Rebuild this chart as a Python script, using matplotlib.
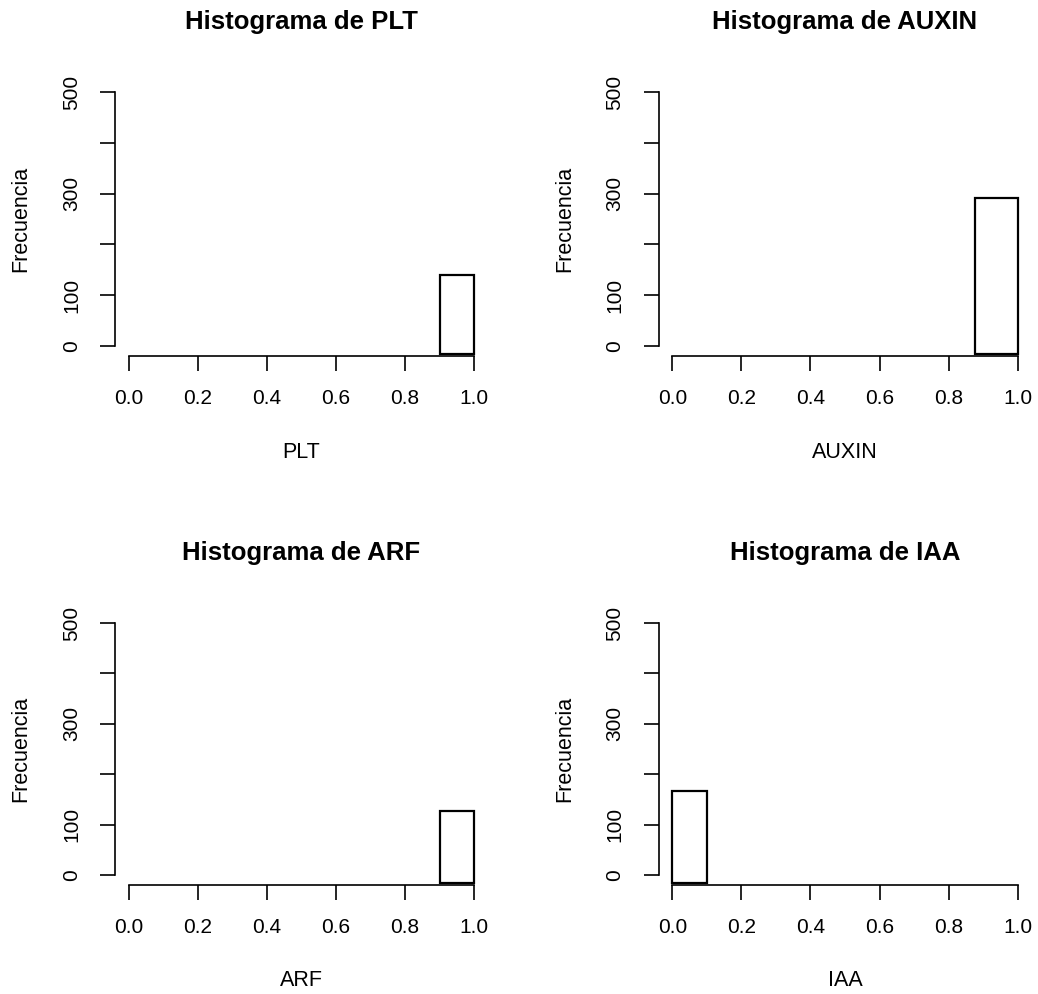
import matplotlib
matplotlib.use("Agg")
import matplotlib.pyplot as plt

# ---- data ----
variables = ["PLT", "AUXIN", "ARF", "IAA"]
bin_left = [0.9, 0.875, 0.9, 0.0]
bin_right = [1.0, 1.0, 1.0, 0.1]
counts = [140, 291, 126, 166]
x_ticks = [0.0, 0.2, 0.4, 0.6, 0.8, 1.0]
x_ticklabels = ["0.0", "0.2", "0.4", "0.6", "0.8", "1.0"]
y_ticks = [0, 100, 200, 300, 400, 500]
y_ticklabels = ["0", "100", "", "300", "", "500"]

plt.rcParams['font.family'] = ['Liberation Sans', 'DejaVu Sans']

W, H = 1038, 994
fig = plt.figure(figsize=(W / 100, H / 100), dpi=100)

# axes rectangles in pixels: (left, top, right, bottom)
rects = [
    (115, 82, 488, 356),
    (658.5, 82, 1031.5, 356),
    (115, 613, 488, 885),
    (658.5, 613, 1031.5, 885),
]
title_y = [22, 22, 553, 553]

YMIN, YMAX = -20, 520
XMIN, XMAX = -0.04, 1.04
BAR_BOTTOM = -16

for i, name in enumerate(variables):
    l, t, r, b = rects[i]
    ax = fig.add_axes([l / W, 1 - b / H, (r - l) / W, (b - t) / H])
    ax.bar([bin_left[i]], [counts[i] - BAR_BOTTOM], width=[bin_right[i] - bin_left[i]],
           bottom=BAR_BOTTOM, align='edge', facecolor='white', edgecolor='black',
           linewidth=1.6)
    ax.set_xlim(XMIN, XMAX)
    ax.set_ylim(YMIN, YMAX)
    for s in ['top', 'right']:
        ax.spines[s].set_visible(False)
    ax.spines['left'].set_bounds(0, 500)
    ax.spines['bottom'].set_bounds(0, 1)
    for s in ['left', 'bottom']:
        ax.spines[s].set_linewidth(1.2)
    ax.set_xticks(x_ticks)
    ax.set_xticklabels(x_ticklabels)
    ax.set_yticks(y_ticks)
    ax.set_yticklabels(y_ticklabels, rotation=90, va='center')
    ax.tick_params(axis='both', length=10.5, width=1.2, labelsize=15, colors='black')
    ax.tick_params(axis='x', pad=13)
    ax.tick_params(axis='y', pad=14)
    ax.set_xlabel(name, fontsize=15.5)
    ax.xaxis.set_label_coords(0.5, -(452 - 356) / (b - t))
    ax.xaxis.label.set_va('center')
    ax.set_ylabel("Frecuencia", fontsize=15.5)
    ax.yaxis.set_label_coords(-94 / (r - l), 0.5)
    ax.yaxis.label.set_va('center')
    ax.text(0.5, 1 + (t - title_y[i]) / (b - t),
            "Histograma de " + name, transform=ax.transAxes, ha='center', va='center',
            fontsize=18.5, fontweight='bold')

fig.savefig("out.png", dpi=100, facecolor='white')
